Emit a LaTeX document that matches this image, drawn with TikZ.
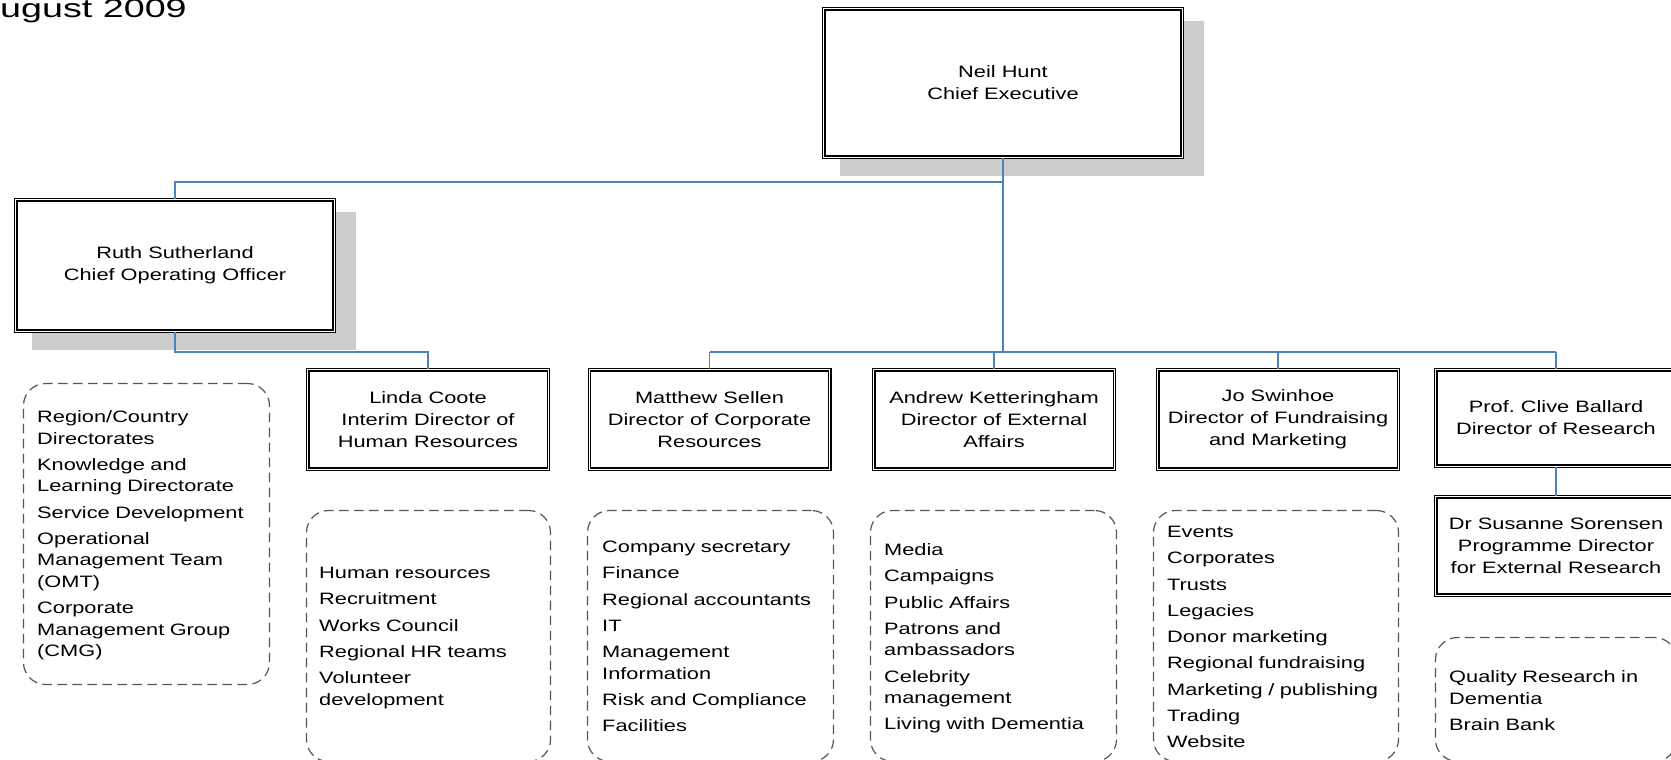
\documentclass[tikz,border=0pt]{standalone}
\usepackage{fontspec}
\setmainfont{Liberation Sans}[FakeStretch=1.32]
\newfontfamily\titlefont{Liberation Sans}[FakeStretch=1.45]
\usetikzlibrary{backgrounds,calc}
\frenchspacing
\definecolor{connblue}{RGB}{79,129,189}
\definecolor{shadowgray}{RGB}{204,204,204}
\definecolor{dashgray}{RGB}{85,85,85}
\tikzset{
  rolebox/.style={draw=black, line width=1.1pt, double=white, double distance=1.3pt,
    fill=white, inner sep=0pt, align=center, font=\fontsize{16.5}{22}\selectfont},
  listbox/.style={draw=dashgray, line width=1.2pt, dash pattern=on 9.5pt off 5.5pt,
    rounded corners=22pt, inner sep=0pt},
  listtext/.style={anchor=base west, inner sep=0pt, text width=235pt, align=left,
    font=\fontsize{16.5}{21.5}\selectfont},
  conn/.style={draw=connblue, line width=1.3pt},
  dirbox/.style={rolebox, minimum width=240.5pt, minimum height=99.4pt}
}
\newcommand{\isep}{\\[4.75pt]}
\begin{document}
\begin{tikzpicture}[x=1pt,y=-1pt]
\useasboundingbox (0,0) rectangle (1671,760);
\clip (0,0) rectangle (1671,760);

% title
\node[anchor=base west, inner sep=0pt, font=\titlefont\fontsize{26}{30}\selectfont] (date) at (0,18) {ugust 2009};

% role boxes
\node[rolebox, minimum width=358.4pt, minimum height=148.4pt] (ceo) at (1003,83) {Neil Hunt\\Chief Executive};
\node[rolebox, minimum width=318.4pt, minimum height=131.4pt] (coo) at (175,265.5) {Ruth Sutherland\\Chief Operating Officer};
\node[dirbox] (linda) at (428,419.5) {Linda Coote\\Interim Director of\\Human Resources};
\node[dirbox] (matthew) at (709.5,419.5) {Matthew Sellen\\Director of Corporate\\Resources};
\node[dirbox] (andrew) at (994,419.5) {Andrew Ketteringham\\Director of External\\Affairs};
\node[dirbox] (jo) at (1278,419.5) {Jo Swinhoe\\Director of Fundraising\\and Marketing};
\node[dirbox, minimum height=96.4pt] (clive) at (1556,418) {Prof. Clive Ballard\\Director of Research};
\node[dirbox, minimum height=98.4pt] (susanne) at (1556,546) {Dr Susanne Sorensen\\Programme Director\\for External Research};

% shadows
\begin{scope}[on background layer]
\fill[shadowgray] ($(ceo.north west)+(16.5,13)$) rectangle ($(ceo.south east)+(21.5,18)$);
\fill[shadowgray] ($(coo.north west)+(16.5,13)$) rectangle ($(coo.south east)+(21.5,18)$);
\end{scope}

% dashed list boxes
\node[listbox, minimum width=246pt, minimum height=301pt] (coolist) at (146.5,534) {};
\node[listbox, minimum width=244pt, minimum height=251pt] (lindalist) at (428.5,636) {};
\node[listbox, minimum width=246pt, minimum height=251pt] (matthewlist) at (710.5,636) {};
\node[listbox, minimum width=246pt, minimum height=251pt] (andrewlist) at (993.5,636) {};
\node[listbox, minimum width=245pt, minimum height=251pt] (jolist) at (1276,636) {};
\node[listbox, minimum width=241pt, minimum height=124pt] (clivelist) at (1556,699.5) {};

% list texts
\node[listtext] (cootext) at (37,422.5) {Region/Country\\Directorates\isep Knowledge and\\Learning Directorate\isep Service Development\isep Operational\\Management Team\\(OMT)\isep Corporate\\Management Group\\(CMG)};
\node[listtext] (lindatext) at (319,578.5) {Human resources\isep Recruitment\isep Works Council\isep Regional HR teams\isep Volunteer\\development};
\node[listtext] (matthewtext) at (602,552.5) {Company secretary\isep Finance\isep Regional accountants\isep IT\isep Management\\Information\isep Risk and Compliance\isep Facilities};
\node[listtext] (andrewtext) at (884,555.5) {Media\isep Campaigns\isep Public Affairs\isep Patrons and\\ambassadors\isep Celebrity\\management\isep Living with Dementia};
\node[listtext] (jotext) at (1167,537.5) {Events\isep Corporates\isep Trusts\isep Legacies\isep Donor marketing\isep Regional fundraising\isep Marketing / publishing\isep Trading\isep Website};
\node[listtext] (clivetext) at (1449,682.5) {Quality Research in\\Dementia\isep Brain Bank};

% connectors
\coordinate (topbus) at (0,182);
\coordinate (midbus) at (0,352);
\draw[conn] (ceo.south) -- (ceo.south |- midbus);
\draw[conn] (ceo.south |- topbus) -- (coo.north |- topbus) -- (coo.north);
\draw[conn] (coo.south) -- (coo.south |- midbus) -- (linda.north |- midbus) -- (linda.north);
\draw[conn] (matthew.north |- midbus) -- (clive.north |- midbus);
\foreach \n in {matthew,andrew,jo,clive} \draw[conn] (\n.north |- midbus) -- (\n.north);
\draw[conn] (clive.south) -- (susanne.north);
\end{tikzpicture}
\end{document}
